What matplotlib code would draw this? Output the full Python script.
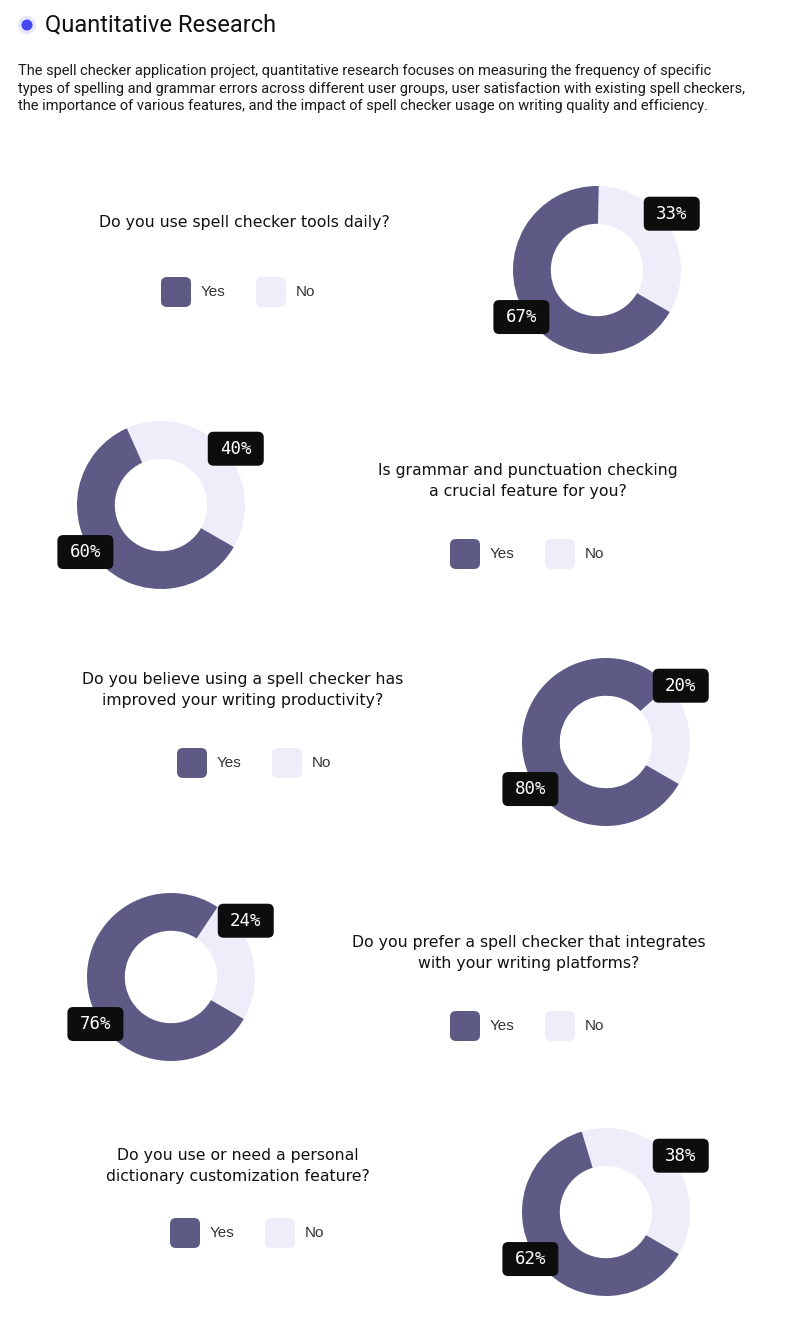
import numpy as np
import matplotlib.pyplot as plt
from matplotlib.patches import FancyBboxPatch, Circle

# ── Datos ─────────────────────────────────────────────────────────────────────
titulo = 'Quantitative Research'
descripcion = [
    'The spell checker application project, quantitative research focuses on measuring the frequency of specific',
    'types of spelling and grammar errors across different user groups, user satisfaction with existing spell checkers,',
    'the importance of various features, and the impact of spell checker usage on writing quality and efficiency.',
]
preguntas = [
    'Do you use spell checker tools daily?',
    'Is grammar and punctuation checking\na crucial feature for you?',
    'Do you believe using a spell checker has\nimproved your writing productivity?',
    'Do you prefer a spell checker that integrates\nwith your writing platforms?',
    'Do you use or need a personal\ndictionary customization feature?',
]
categorias = ['Yes', 'No']
si = [67, 60, 80, 76, 62]
no = [33, 40, 20, 24, 38]

# ── Estilo / posiciones (pixeles) ────────────────────────────────────────────
W, H = 806, 1318
OSCURO = '#5d5b85'
CLARO = '#efedf9'
R_PX = 84

centros_donut = [(597, 270), (161, 505), (606, 742), (171, 977), (606, 1212)]
centros_preg = [(244, 222), (528, 481), (243, 690), (529, 953), (238, 1166)]
leyenda_x = [161, 450, 177, 450, 170]
leyenda_y = [292, 554, 763, 1026, 1233]

fig = plt.figure(figsize=(W / 100, H / 100), dpi=100)
fig.patch.set_facecolor('white')

# capa de fondo en pixeles
bg = fig.add_axes([0, 0, 1, 1])
bg.set_xlim(0, W)
bg.set_ylim(H, 0)
bg.axis('off')

# cabecera
bg.add_patch(Circle((27, 25), 9, color='#e6e6fc', lw=0))
bg.add_patch(Circle((27, 25), 5.5, color='#4646f2', lw=0))
bg.text(45, 25, titulo, fontsize=17, family='Roboto', va='center',
        ha='left', color='#111111')
for i, linea in enumerate(descripcion):
    bg.text(18, 71 + i * 17.5, linea, fontsize=10.5,
            family='Roboto', va='center', ha='left', color='#1a1a1a')

for k in range(len(preguntas)):
    # pregunta
    px, py = centros_preg[k]
    bg.text(px, py, preguntas[k], fontsize=11.3, family='DejaVu Sans',
            ha='center', va='center', multialignment='center',
            linespacing=1.45, color='#111111')

    # leyenda
    lx, ly = leyenda_x[k], leyenda_y[k]
    for j, (cat, col) in enumerate(zip(categorias, [OSCURO, CLARO])):
        x0 = lx + j * 95
        bg.add_patch(FancyBboxPatch((x0 + 6, ly - 9), 18, 18,
                                    boxstyle='round,pad=6',
                                    fc=col, ec='none'))
        bg.text(x0 + 40, ly, cat, fontsize=11, family='Liberation Sans',
                va='center', ha='left', color='#333333')

    # donut
    cx, cy = centros_donut[k]
    lado = 200
    ax = fig.add_axes([(cx - lado / 2) / W, 1 - (cy + lado / 2) / H,
                       lado / W, lado / H])
    lim = lado / 2 / R_PX
    ax.pie([no[k], si[k]], colors=[CLARO, OSCURO], startangle=-30,
           counterclock=True, radius=1,
           wedgeprops=dict(width=0.45, linewidth=0))
    ax.set_xlim(-lim, lim)
    ax.set_ylim(-lim, lim)
    ax.set_aspect('equal')
    ax.axis('off')

    # etiquetas
    bw, bh = 56 / R_PX, 34 / R_PX
    for val, (ex, ey) in zip([no[k], si[k]], [(0.89, 0.67), (-0.90, -0.56)]):
        ax.add_patch(FancyBboxPatch((ex - bw / 2 + 0.07, ey - bh / 2 + 0.07),
                                    bw - 0.14, bh - 0.14,
                                    boxstyle='round,pad=0.07',
                                    fc='#0d0d0d', ec='none',
                                    clip_on=False, zorder=5))
        ax.text(ex, ey, f'{val}%', color='white', fontsize=12.5,
                family='DejaVu Sans Mono', ha='center', va='center',
                zorder=6, clip_on=False)

plt.savefig('out.png', dpi=100, facecolor='white')
